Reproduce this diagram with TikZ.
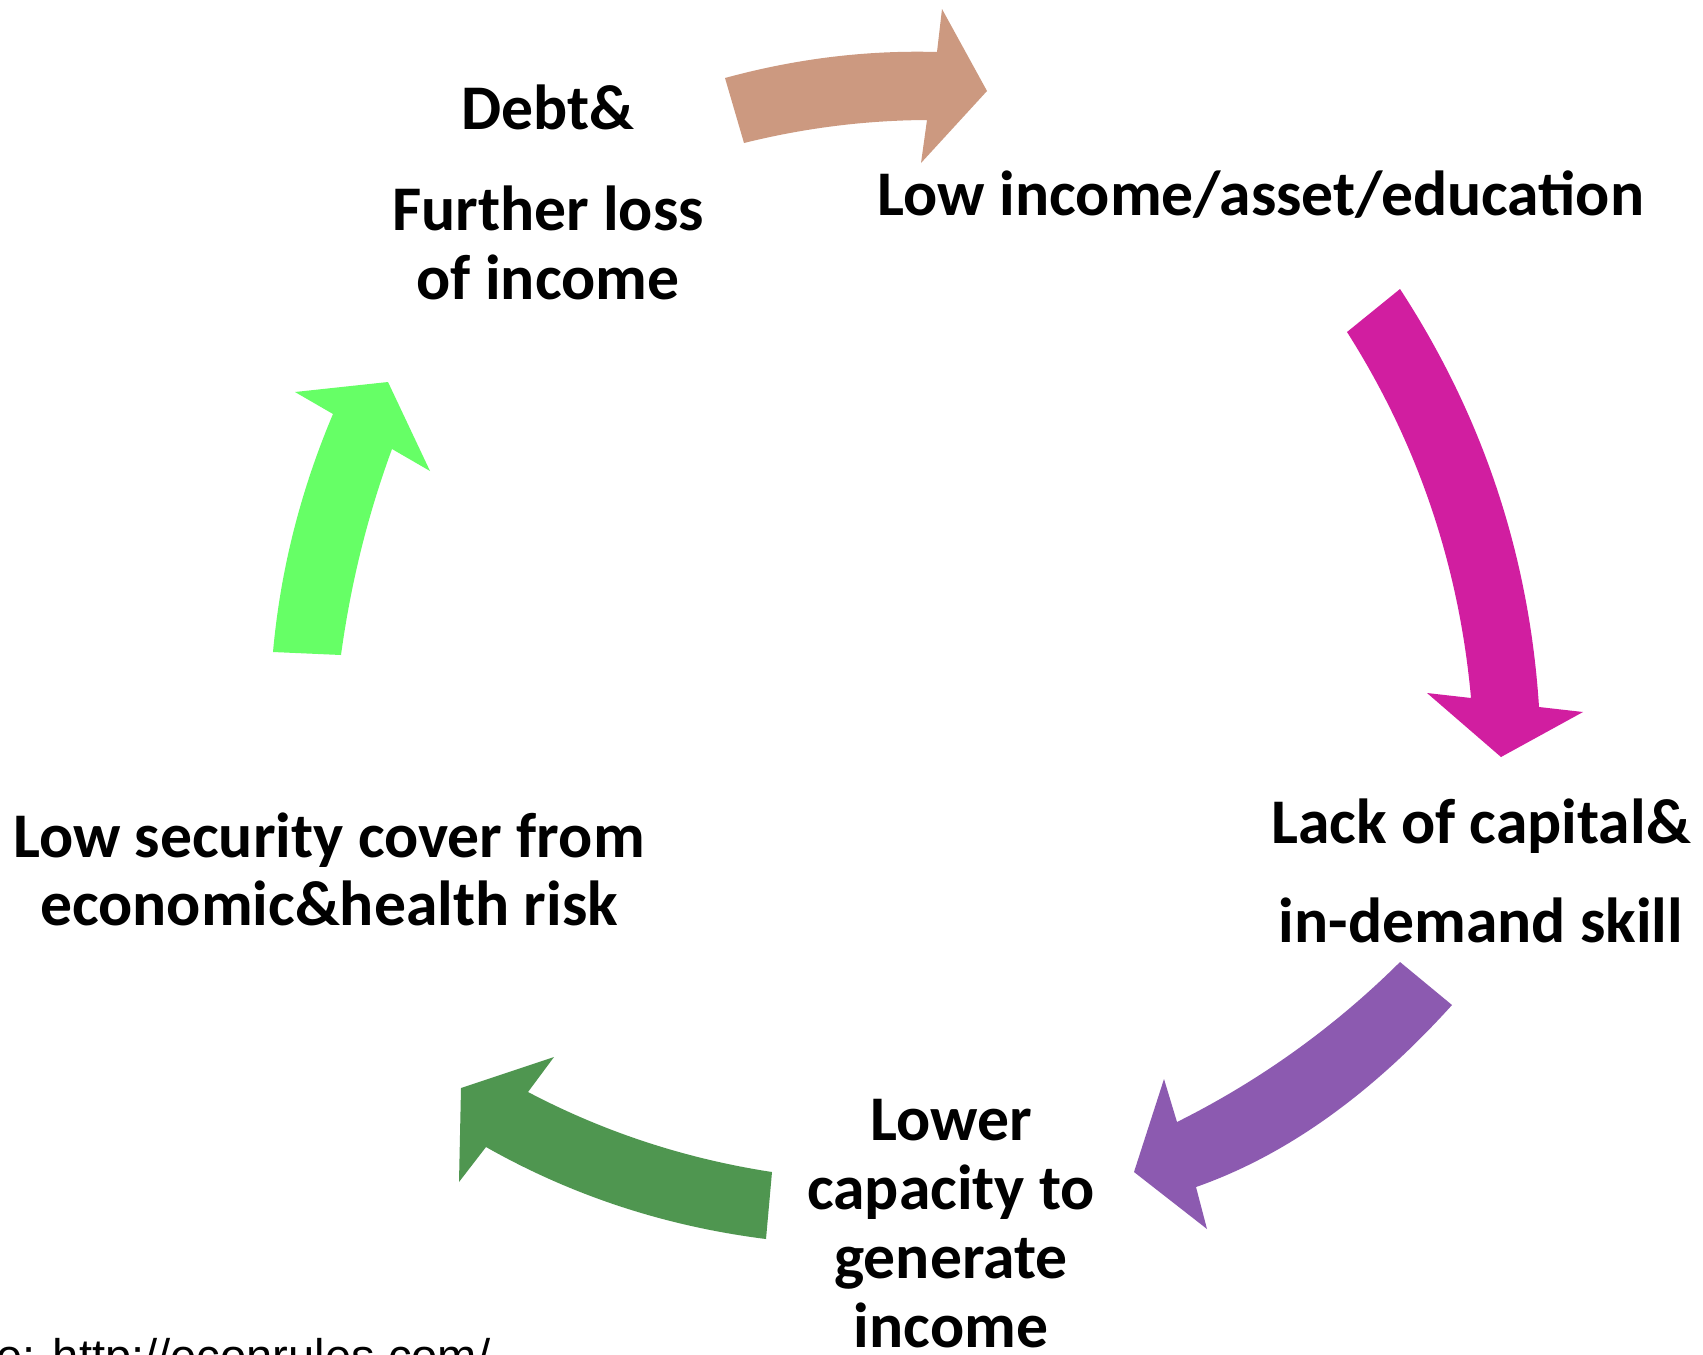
\documentclass[tikz,border=0pt]{standalone}
\usepackage{fontspec}
\setmainfont{Carlito}
\newfontfamily\urlfont{Liberation Sans}
\definecolor{cbrown}{RGB}{204,153,128}
\definecolor{cmag}{RGB}{209,30,160}
\definecolor{cpur}{RGB}{140,90,176}
\definecolor{cdg}{RGB}{79,150,80}
\definecolor{clg}{RGB}{102,255,102}
\begin{document}
\begin{tikzpicture}[x=0.01cm,y=-0.01cm,
  lbl/.style={font=\fontsize{18.1}{19.6}\selectfont\bfseries, align=center, inner sep=0pt, anchor=base},
  blockarrow/.style={draw=none}]
\useasboundingbox (0,0) rectangle (1703,1354);
\clip (0,0) rectangle (1703,1354);
\fill[white] (0,0) rectangle (1703,1354);

% curved block arrows
\fill[cbrown,blockarrow] (725,78) .. controls (795.7,58.7) and (866.3,50) .. (937,52)
  -- (942,9) -- (987,91) -- (921,163) -- (927,120)
  .. controls (865.3,120.3) and (804.3,128) .. (744,143) -- cycle;
\fill[cmag,blockarrow] (1400,289) .. controls (1483,416.3) and (1529.3,555.7) .. (1539,707)
  -- (1583,712) -- (1501,757) -- (1427,693) -- (1471,698)
  .. controls (1459,565.3) and (1417.7,443.3) .. (1347,332) -- cycle;
\fill[cpur,blockarrow] (1400,962) .. controls (1334.3,1027.3) and (1259.7,1080.7) .. (1177,1122)
  -- (1164,1079) -- (1134,1172) -- (1207,1229) -- (1196,1187)
  .. controls (1285.3,1155.7) and (1370.7,1095) .. (1452,1005) -- cycle;
\fill[cdg,blockarrow] (772,1172) .. controls (685.3,1158.7) and (604,1132) .. (528,1092)
  -- (554,1057) -- (461,1088) -- (459,1182) -- (486,1147)
  .. controls (572,1195.7) and (665.3,1226.3) .. (766,1239) -- cycle;
\fill[clg,blockarrow] (273,652) .. controls (280.3,570.7) and (300.3,491.3) .. (333,414)
  -- (295,392) -- (388,382) -- (430,471) -- (392,449)
  .. controls (367.7,515) and (350.7,583.7) .. (341,655) -- cycle;

% labels
\node[lbl] (debt) at (548,299) {Debt\&\\[8.9pt]Further loss\\of income};
\node[lbl] (low) at (1261,215) {Low income/asset/education};
\node[lbl] (lack) at (1481,942) {Lack of capital\&\\[8.3pt]in-demand skill};
\node[lbl] (lower) at (951,1347) {Lower\\capacity to\\generate\\income};
\node[lbl] (sec) at (329,925) {Low security cover from\\[-0.5pt]economic\&health risk};
\node[font=\urlfont\fontsize{13.4}{16}\selectfont, anchor=base east, inner sep=0pt] (src) at (491,1372) {e: http://econrules.com/};
\end{tikzpicture}
\end{document}
